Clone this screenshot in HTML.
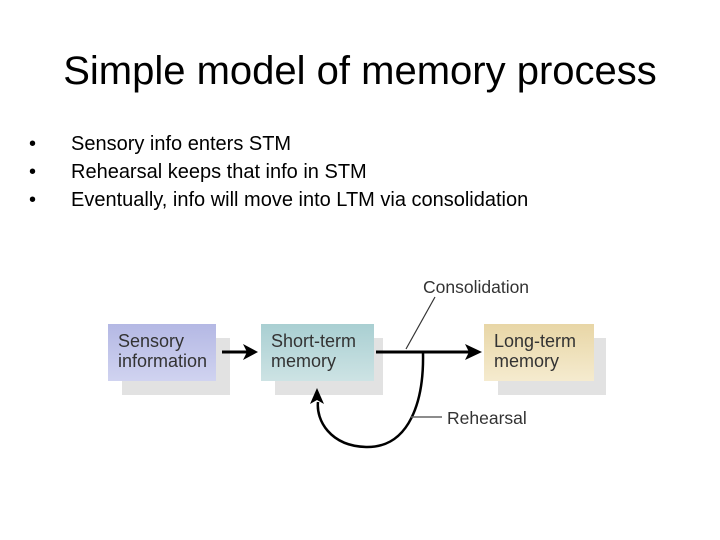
<!DOCTYPE html>
<html><head><style>
body{margin:0;width:720px;height:540px;background:#fff;position:relative;font-family:"Liberation Sans",Arial,sans-serif;overflow:hidden}
.t{position:absolute;left:0;width:720px;text-align:center;top:49px;font-size:40px;color:#000}
.b{position:absolute;left:29px;font-size:20px;color:#000}
.b span{position:absolute;left:42px;white-space:nowrap}
.box{position:absolute;width:108px;height:57px;font-size:18px;line-height:20px;color:#333;box-sizing:border-box;padding:7px 10px}
.sh{position:absolute;width:108px;height:57px;background:#e2e2e2}
</style></head><body>
<div class="t">Simple model of memory process</div>
<div class="b" style="top:133px">•<span>Sensory info enters STM</span></div>
<div class="b" style="top:161px">•<span>Rehearsal keeps that info in STM</span></div>
<div class="b" style="top:189px">•<span>Eventually, info will move into LTM via consolidation</span></div>

<div class="sh" style="left:122px;top:338px"></div>
<div class="sh" style="left:275px;top:338px"></div>
<div class="sh" style="left:498px;top:338px"></div>
<div class="box" style="left:108px;top:324px;background:linear-gradient(#b4b8e4,#d0d3f0)">Sensory<br>information</div>
<div class="box" style="left:261px;top:324px;width:113px;background:linear-gradient(#a9cfd2,#cde3e4)">Short-term<br>memory</div>
<div class="box" style="left:484px;top:324px;width:110px;background:linear-gradient(#e8d6a6,#f5ebcf)">Long-term<br>memory</div>

<svg width="720" height="540" style="position:absolute;left:0;top:0">
<g stroke="#000" stroke-width="3" fill="none">
<line x1="222" y1="352" x2="250" y2="352"/>
<path d="M243,344 L258,352 L243,360 L247,352z" fill="#000" stroke="none"/>
<line x1="376" y1="352" x2="470" y2="352"/>
<path d="M465,344 L482,352 L465,360 L469,352z" fill="#000" stroke="none"/>
<path d="M423,353 C424,400 410,448 366,447 C330,446 316,420 318,402" stroke-width="2.5"/>
<path d="M310,404 L317,388 L324,404 L317,400z" fill="#000" stroke="none"/>
</g>
<line x1="435" y1="297" x2="406" y2="349" stroke="#333" stroke-width="1.2"/>
<line x1="411" y1="417" x2="442" y2="417" stroke="#666" stroke-width="1.5"/>
<text x="423" y="293" font-size="17.5" fill="#333" font-family="Liberation Sans,sans-serif">Consolidation</text>
<text x="447" y="424" font-size="17.5" fill="#333" font-family="Liberation Sans,sans-serif">Rehearsal</text>
</svg>
</body></html>
